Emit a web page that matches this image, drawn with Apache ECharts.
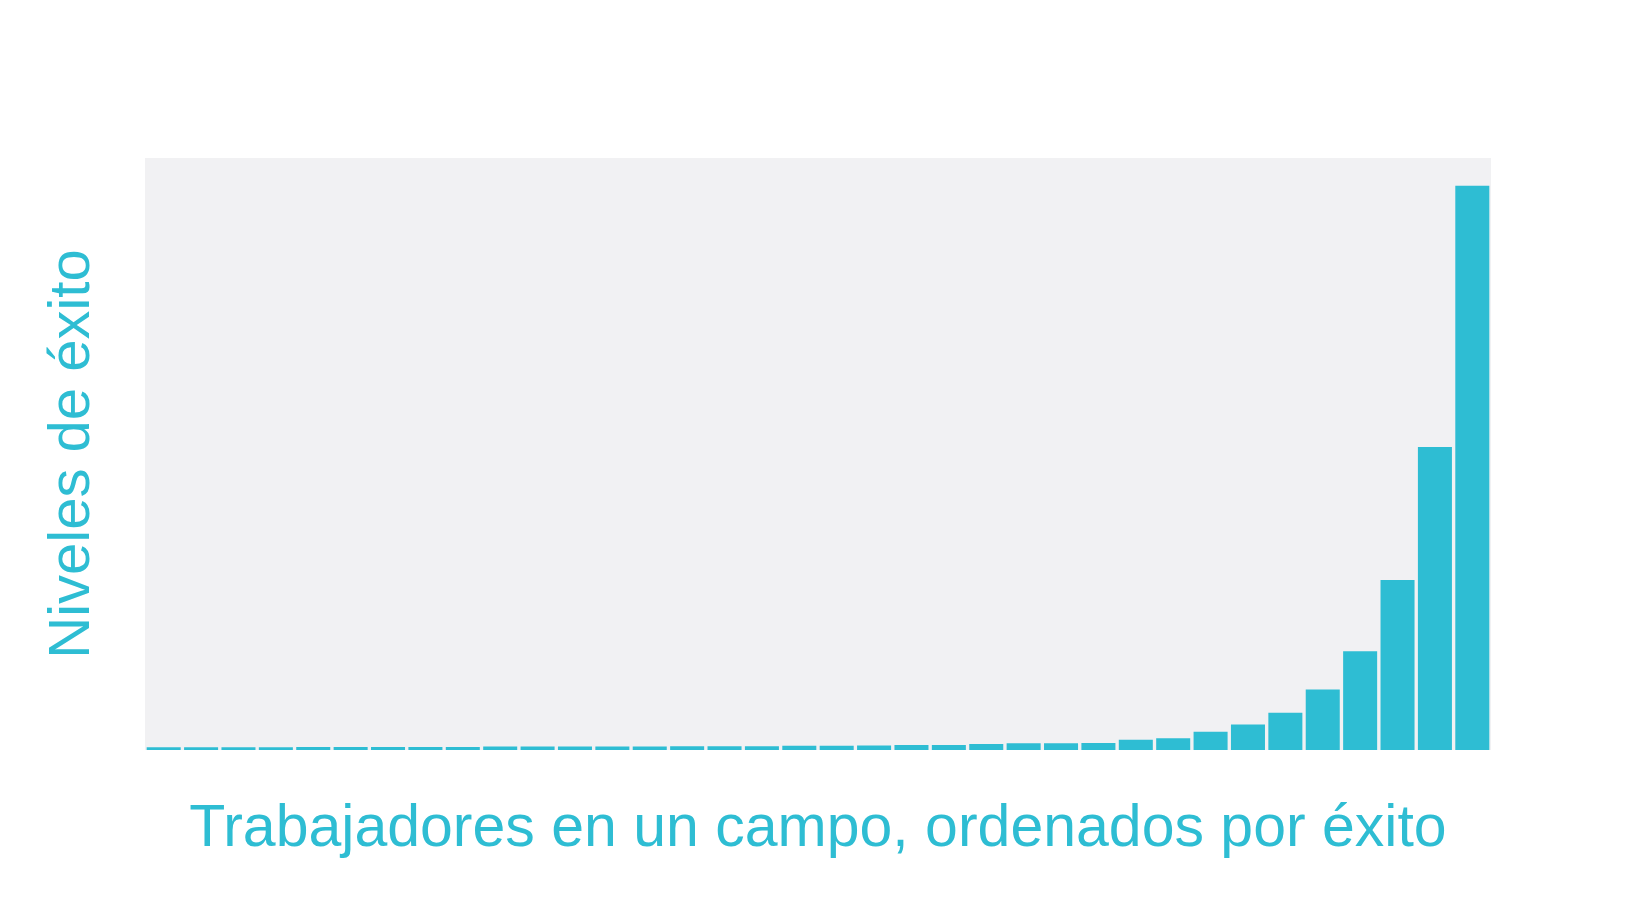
<!DOCTYPE html>
<html>
<head>
<meta charset="utf-8">
<script src="https://cdn.jsdelivr.net/npm/echarts@6/dist/echarts.min.js"></script>
<style>
html,body{margin:0;padding:0;background:#ffffff;}
#chart{width:1643px;height:903px;}
</style>
</head>
<body>
<div id="chart"></div>
<script>
// Workers ranked by success (36 workers), success level as % of axis height
const workers = Array.from({length: 36}, (_, i) => 'W' + (i + 1));
const successLevels = [
  0.45, 0.45, 0.45, 0.45, 0.5, 0.5, 0.5, 0.5, 0.5, 0.6,
  0.6, 0.6, 0.6, 0.6, 0.65, 0.65, 0.65, 0.7, 0.73, 0.75,
  0.84, 0.84, 1.0, 1.12, 1.12, 1.18, 1.74, 2.0, 3.1, 4.3,
  6.3, 10.2, 16.7, 28.7, 51.2, 95.3
];
const xTitle = 'Trabajadores en un campo, ordenados por éxito';
const yTitle = 'Niveles de éxito';

const accent = '#2ebdd3';
const chart = echarts.init(document.getElementById('chart'));
chart.setOption({
  backgroundColor: '#ffffff',
  animation: false,
  grid: {
    left: 145, right: 152, top: 158, bottom: 153,
    show: true, backgroundColor: '#f1f1f3', borderWidth: 0
  },
  xAxis: {
    type: 'category',
    data: workers,
    axisLine: {show: false},
    axisTick: {show: false},
    axisLabel: {show: false},
    name: xTitle,
    nameLocation: 'middle',
    nameGap: 50,
    nameTextStyle: {
      color: accent, fontSize: 59,
      fontFamily: '"Liberation Sans", Arial, Helvetica, sans-serif'
    }
  },
  yAxis: {
    type: 'value',
    min: 0, max: 100,
    axisLine: {show: false},
    axisTick: {show: false},
    axisLabel: {show: false},
    splitLine: {show: false},
    name: yTitle,
    nameLocation: 'middle',
    nameGap: 43,
    nameTextStyle: {
      color: accent, fontSize: 58,
      fontFamily: '"Liberation Sans", Arial, Helvetica, sans-serif'
    }
  },
  series: [{
    type: 'bar',
    data: successLevels,
    barCategoryGap: '9%',
    itemStyle: {color: accent},
    emphasis: {disabled: true}
  }]
});
</script>
</body>
</html>
